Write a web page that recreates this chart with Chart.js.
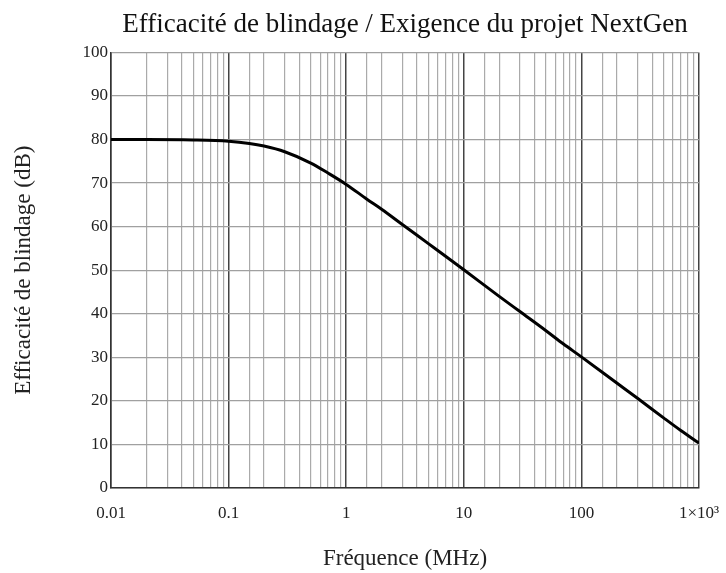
<!DOCTYPE html>
<html>
<head>
<meta charset="utf-8">
<script src="https://cdn.jsdelivr.net/npm/chart.js@4/dist/chart.umd.min.js"></script>
<style>
  html, body { margin: 0; padding: 0; background: #fff; }
  #wrap { width: 726px; height: 573px; }
</style>
</head>
<body>
<div id="wrap"><canvas id="chart" width="726" height="573"></canvas></div>
<script>
// values
const freqMHz = [0.01, 0.02, 0.05, 0.1, 0.15, 0.2, 0.3, 0.5, 0.7, 1, 1.5, 2, 3, 5, 7, 10, 20, 30, 50, 70, 100, 200, 300, 500, 700, 1000];
const shieldingDb = [80, 80, 79.9, 79.6, 79.1, 78.5, 77.2, 74.6, 72.3, 69.7, 66.3, 64.0, 60.5, 56.1, 53.2, 50.1, 44.0, 40.5, 36.1, 33.1, 30.1, 24.1, 20.6, 16.1, 13.2, 10.3];
const decadeTicks = [0.01, 0.1, 1, 10, 100, 1000];
const decadeLabels = ["0.01", "0.1", "1", "10", "100", "1\u00d710\u00b3"];

const serif = "'Liberation Serif', 'DejaVu Serif', serif";

function decadeIndex(v) {
  const l = Math.log10(v);
  if (Math.abs(l - Math.round(l)) > 1e-6) return -1;
  return decadeTicks.findIndex(d => Math.abs(Math.log10(d) - l) < 1e-6);
}

const points = freqMHz.map((f, i) => ({ x: f, y: shieldingDb[i] }));

new Chart(document.getElementById("chart").getContext("2d"), {
  type: "line",
  data: {
    datasets: [{
      data: points,
      borderColor: "#000",
      borderWidth: 3,
      pointRadius: 0,
      cubicInterpolationMode: "monotone",
      fill: false
    }]
  },
  options: {
    responsive: false,
    animation: false,
    layout: { padding: { left: 0, right: 27, top: 0, bottom: 0 } },
    plugins: {
      legend: { display: false },
      tooltip: { enabled: false },
      title: {
        display: true,
        fullSize: false,
        text: "Efficacit\u00e9 de blindage / Exigence du projet NextGen",
        color: "#111",
        font: { family: serif, size: 27, weight: "normal" },
        padding: { top: 9, bottom: 11 }
      }
    },
    scales: {
      x: {
        type: "logarithmic",
        min: 0.01,
        max: 1000,
        afterFit: s => { s.height = 85; s.paddingLeft = 0; s.paddingRight = 0; },
        border: { color: "#333", width: 1.5 },
        grid: {
          drawTicks: false,
          color: ctx => decadeIndex(ctx.tick.value) >= 0 ? "#444" : "#aaa",
          lineWidth: ctx => decadeIndex(ctx.tick.value) >= 0 ? 1.5 : 1.2
        },
        ticks: {
          autoSkip: false,
          maxRotation: 0,
          padding: 15,
          color: "#222",
          font: { family: serif, size: 17 },
          callback: v => {
            const i = decadeIndex(v);
            return i >= 0 ? decadeLabels[i] : "";
          }
        },
        title: {
          display: true,
          text: "Fr\u00e9quence (MHz)",
          color: "#222",
          font: { family: serif, size: 23 },
          padding: { top: 2, bottom: 0 }
        }
      },
      y: {
        min: 0,
        max: 100,
        afterFit: s => { s.width = 111; },
        border: { color: "#333", width: 1.5 },
        grid: { drawTicks: false, color: "#a0a0a0", lineWidth: 1.2 },
        ticks: {
          stepSize: 10,
          padding: 3,
          color: "#222",
          font: { family: serif, size: 17 }
        },
        title: {
          display: true,
          text: "Efficacit\u00e9 de blindage (dB)",
          color: "#222",
          font: { family: serif, size: 23 },
          padding: { top: 10, bottom: 4 }
        }
      }
    }
  }
});
</script>
</body>
</html>
